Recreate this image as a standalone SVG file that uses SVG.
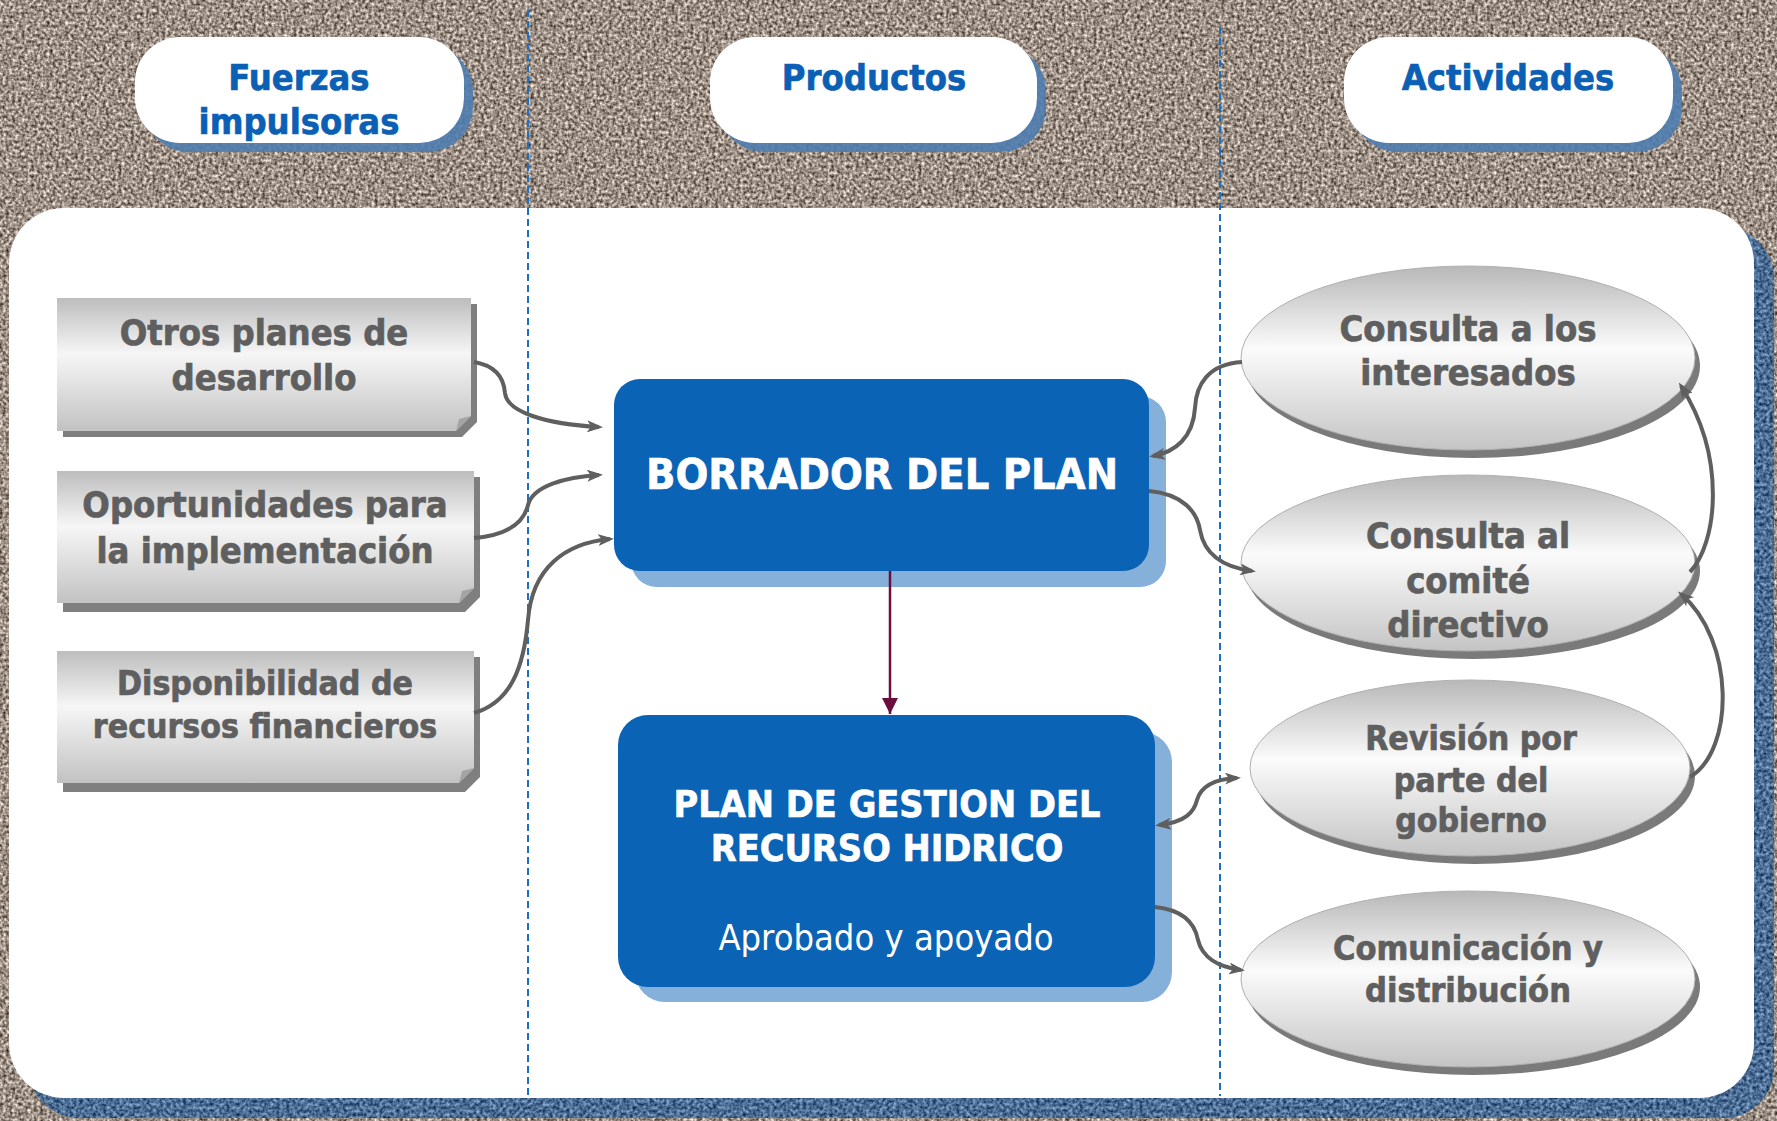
<svg xmlns="http://www.w3.org/2000/svg" width="1777" height="1121" viewBox="0 0 1777 1121">
<defs>
<style>
.hdr{font-family:'DejaVu Sans Condensed','DejaVu Sans',sans-serif;font-stretch:condensed;font-weight:bold;font-size:36px;fill:#0b5fb5;stroke:#0b5fb5;stroke-width:0.6px;text-anchor:middle}
.gt{font-family:'DejaVu Sans Condensed','DejaVu Sans',sans-serif;font-stretch:condensed;font-weight:bold;fill:#5f5f5f;stroke:#5f5f5f;stroke-width:0.7px;text-anchor:middle}
.wt{font-family:'DejaVu Sans Condensed','DejaVu Sans',sans-serif;font-stretch:condensed;font-weight:bold;fill:#ffffff;stroke:#ffffff;stroke-width:0.6px;text-anchor:middle}
.wr{font-family:'DejaVu Sans Condensed','DejaVu Sans',sans-serif;font-stretch:condensed;font-weight:normal;fill:#ffffff;text-anchor:middle}
.pill{fill:#ffffff}
.pillsh{fill:#4f7db0;opacity:0.9}
.box{fill:url(#gbox)}
.boxsh{fill:#7f7f7f}
.fold{fill:#a4a4a4}
.ell{fill:url(#gell);stroke:#b0b0b0;stroke-width:1}
.ellsh{fill:#7a7a7a}
.blue{fill:#0b63b5}
.bluesh{fill:#85b0da}
.con{fill:none;stroke:#5f5f5f;stroke-width:4}
.sep{stroke:#1f6fc0;stroke-width:2;stroke-dasharray:7 4}
</style>
<linearGradient id="gbox" x1="0" y1="0" x2="0" y2="1">
<stop offset="0" stop-color="#bdbdbd"/>
<stop offset="0.42" stop-color="#f6f6f6"/>
<stop offset="1" stop-color="#c2c2c2"/>
</linearGradient>
<linearGradient id="gell" x1="0" y1="0" x2="0" y2="1">
<stop offset="0" stop-color="#b8b8b8"/>
<stop offset="0.45" stop-color="#fbfbfb"/>
<stop offset="1" stop-color="#c4c4c4"/>
</linearGradient>
<filter id="granite" filterUnits="userSpaceOnUse" x="0" y="0" width="1777" height="1121" color-interpolation-filters="sRGB">
<feTurbulence type="fractalNoise" baseFrequency="0.32" numOctaves="2" seed="3"/>
<feColorMatrix type="matrix" values="1.15 0 0 0 0.04  1.15 0 0 0 -0.01  1.15 0 0 0 -0.05  0 0 0 0 1"/>
</filter>
<filter id="bluetex" filterUnits="userSpaceOnUse" x="0" y="0" width="1777" height="1121" color-interpolation-filters="sRGB">
<feTurbulence type="fractalNoise" baseFrequency="0.3" numOctaves="2" seed="5" result="n"/>
<feColorMatrix in="n" type="matrix" values="0.8 0 0 0 -0.1  0.8 0 0 0 0.03  0.8 0 0 0 0.18  0 0 0 0 1" result="c"/>
<feComposite in="c" in2="SourceGraphic" operator="in"/>
</filter>
<marker id="ah" viewBox="0 0 16 12" refX="12" refY="6" markerWidth="16" markerHeight="12" markerUnits="userSpaceOnUse" orient="auto-start-reverse">
<path d="M0,0 L16,6 L0,12 L4,6 Z" fill="#5f5f5f"/>
</marker>
<marker id="ahm" viewBox="0 0 16 16" refX="16" refY="8" markerWidth="16" markerHeight="16" markerUnits="userSpaceOnUse" orient="auto">
<path d="M0,0 L16,8 L0,16 Z" fill="#6b0d3d"/>
</marker>
</defs>

<g id="background">
<rect x="0" y="0" width="1777" height="1121" fill="#a09589" filter="url(#granite)"/>
<rect x="29" y="228" width="1745" height="890" rx="50" fill="#4a6d95" filter="url(#bluetex)"/>
<rect x="9" y="208" width="1745" height="890" rx="55" fill="#ffffff"/>
<line class="sep" x1="528" y1="10" x2="528" y2="1096"/>
<line class="sep" x1="1220" y1="27" x2="1220" y2="1096"/>
</g>

<g id="header-fuerzas">
<rect class="pillsh" x="144" y="46" width="329" height="106" rx="45"/>
<rect class="pill" x="135" y="37" width="329" height="106" rx="45"/>
<text class="hdr" x="299" y="90">Fuerzas</text>
<text class="hdr" x="299" y="134">impulsoras</text>
</g>
<g id="header-productos">
<rect class="pillsh" x="719" y="46" width="327" height="106" rx="45"/>
<rect class="pill" x="710" y="37" width="327" height="106" rx="45"/>
<text class="hdr" x="874" y="90">Productos</text>
</g>
<g id="header-actividades">
<rect class="pillsh" x="1353" y="46" width="329" height="106" rx="45"/>
<rect class="pill" x="1344" y="37" width="329" height="106" rx="45"/>
<text class="hdr" x="1508" y="90">Actividades</text>
</g>

<g id="node-otros-planes">
<path class="boxsh" d="M63,304 H477 V422 L462,437 H63 Z"/>
<path class="box" d="M57,298 H471 V416 L456,431 H57 Z"/>
<path class="fold" d="M456,431 L471,416 L459,419 Z"/>
<text class="gt" font-size="36" x="264" y="345">Otros planes de</text>
<text class="gt" font-size="36" x="264" y="390">desarrollo</text>
</g>
<g id="node-oportunidades">
<path class="boxsh" d="M63,477 H480 V597 L465,612 H63 Z"/>
<path class="box" d="M57,471 H474 V588 L459,603 H57 Z"/>
<path class="fold" d="M459,603 L474,588 L462,591 Z"/>
<text class="gt" font-size="36" x="265" y="517">Oportunidades para</text>
<text class="gt" font-size="36" x="265" y="563">la implementación</text>
</g>
<g id="node-disponibilidad">
<path class="boxsh" d="M63,657 H480 V777 L465,792 H63 Z"/>
<path class="box" d="M57,651 H474 V768 L459,783 H57 Z"/>
<path class="fold" d="M459,783 L474,768 L462,771 Z"/>
<text class="gt" font-size="33.5" x="265" y="695">Disponibilidad de</text>
<text class="gt" font-size="33.5" x="265" y="738">recursos financieros</text>
</g>

<g id="node-borrador">
<rect class="bluesh" x="631" y="396" width="535" height="191" rx="26"/>
<rect class="blue" x="614" y="379" width="535" height="192" rx="26"/>
<text class="wt" font-size="43" x="882" y="489">BORRADOR DEL PLAN</text>
</g>
<g id="node-plan">
<rect class="bluesh" x="635" y="732" width="537" height="270" rx="30"/>
<rect class="blue" x="618" y="715" width="537" height="272" rx="30"/>
<text class="wt" font-size="37.5" x="887" y="817">PLAN DE GESTION DEL</text>
<text class="wt" font-size="37.5" x="887" y="861">RECURSO HIDRICO</text>
<text class="wr" font-size="36" x="886" y="950">Aprobado y apoyado</text>
</g>

<g id="node-consulta-interesados">
<ellipse class="ellsh" cx="1473" cy="366" rx="227" ry="92"/>
<ellipse class="ell" cx="1468" cy="358" rx="227" ry="92"/>
<text class="gt" font-size="36" x="1468" y="341">Consulta a los</text>
<text class="gt" font-size="36" x="1468" y="385">interesados</text>
</g>
<g id="node-consulta-comite">
<ellipse class="ellsh" cx="1473" cy="571" rx="227" ry="88"/>
<ellipse class="ell" cx="1468" cy="563" rx="227" ry="88"/>
<text class="gt" font-size="36" x="1468" y="548">Consulta al</text>
<text class="gt" font-size="36" x="1468" y="593">comité</text>
<text class="gt" font-size="36" x="1468" y="637">directivo</text>
</g>
<g id="node-revision">
<ellipse class="ellsh" cx="1475" cy="776" rx="220" ry="88"/>
<ellipse class="ell" cx="1470" cy="768" rx="220" ry="88"/>
<text class="gt" font-size="33.5" x="1471" y="750">Revisión por</text>
<text class="gt" font-size="33.5" x="1471" y="792">parte del</text>
<text class="gt" font-size="33.5" x="1471" y="832">gobierno</text>
</g>
<g id="node-comunicacion">
<ellipse class="ellsh" cx="1473" cy="987" rx="227" ry="88"/>
<ellipse class="ell" cx="1468" cy="979" rx="227" ry="88"/>
<text class="gt" font-size="34" x="1468" y="960">Comunicación y</text>
<text class="gt" font-size="34" x="1468" y="1002">distribución</text>
</g>

<g id="connectors">
<path class="con" marker-end="url(#ah)" d="M474,362 C498,366 504,380 505,393 C507,412 545,424 599,427"/>
<path class="con" marker-end="url(#ah)" d="M474,538 C508,535 524,522 528,505 C533,486 565,477 599,475"/>
<path class="con" marker-end="url(#ah)" d="M474,713 C512,702 524,665 528,620 C532,568 565,543 610,539"/>
<path class="con" marker-end="url(#ah)" d="M1242,362 C1208,364 1196,385 1195,408 C1193,438 1175,452 1153,456"/>
<path class="con" marker-end="url(#ah)" d="M1149,491 C1183,494 1197,512 1200,530 C1204,553 1222,567 1252,571"/>
<path class="con" marker-start="url(#ah)" marker-end="url(#ah)" d="M1159,825 C1186,822 1194,812 1197,800 C1201,786 1216,779 1237,778"/>
<path class="con" marker-end="url(#ah)" d="M1155,907 C1184,910 1195,924 1198,940 C1202,957 1218,967 1241,970"/>
<path class="con" marker-end="url(#ah)" d="M1690,572 C1716,545 1728,460 1681,386"/>
<path class="con" marker-end="url(#ah)" d="M1690,777 C1735,750 1735,640 1681,594"/>
<line x1="890" y1="571" x2="890" y2="714" stroke="#6b0d3d" stroke-width="2.5" marker-end="url(#ahm)"/>
</g>
</svg>
